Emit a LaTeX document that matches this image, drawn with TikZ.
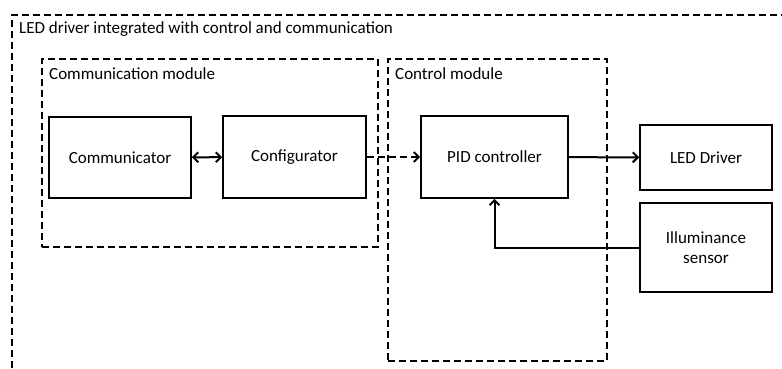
\documentclass[tikz,border=0pt]{standalone}
\usepackage{fontspec}
\setmainfont{Carlito}
\usetikzlibrary{arrows.meta}

\begin{document}
\begin{tikzpicture}[x=1pt,y=-1pt,
  font=\fontsize{17pt}{20.5pt}\selectfont,
  block/.style={draw, rectangle, line width=1.6pt, inner sep=0pt, align=center},
  module/.style={draw, rectangle, line width=1.5pt, inner sep=0pt,
    dash pattern=on 7pt off 4pt},
  tag/.style={anchor=west, inner sep=0pt},
  link/.style={line width=2pt, -{Straight Barb[length=5pt,width=10pt]}}]
  \useasboundingbox (0,0) rectangle (782,368);
  % Outer frame (only left and top edges fall inside the picture)
  \draw[line width=1.5pt, dash pattern=on 7pt off 4pt] (12,368) |- (782,15);
  \node[tag] (title) at (19,29) {LED driver integrated with control and communication};
  % Modules
  \node[module, minimum width=336, minimum height=188] (commmod) at (210,153) {};
  \node[module, minimum width=219, minimum height=302] (ctrlmod) at (497.5,210) {};
  \node[tag] (commtag) at (49,74) {Communication module};
  \node[tag] (ctrltag) at (395,74) {Control module};
  % Blocks
  \node[block, minimum width=142, minimum height=81] (comm) at (120,157.5) {Communicator};
  \node[block, minimum width=143, minimum height=82] (conf) at (294.5,157) {Configurator};
  \node[block, minimum width=147, minimum height=82] (pid) at (494.5,157) {PID controller};
  \node[block, minimum width=132, minimum height=65] (led) at (706,157.5) {LED Driver};
  \node[block, minimum width=132, minimum height=89] (sens) at (706,247.5) {Illuminance\\sensor};
  % Signals
  \draw[link, {Straight Barb[length=5pt,width=10pt]}-{Straight Barb[length=5pt,width=10pt]}] (comm) -- (conf);
  \draw[link, dash pattern=on 7pt off 4pt] (conf) -- (pid);
  \draw[link] (pid) -- (led);
  \draw[link] (sens.west) -| (pid.south);
\end{tikzpicture}
\end{document}
